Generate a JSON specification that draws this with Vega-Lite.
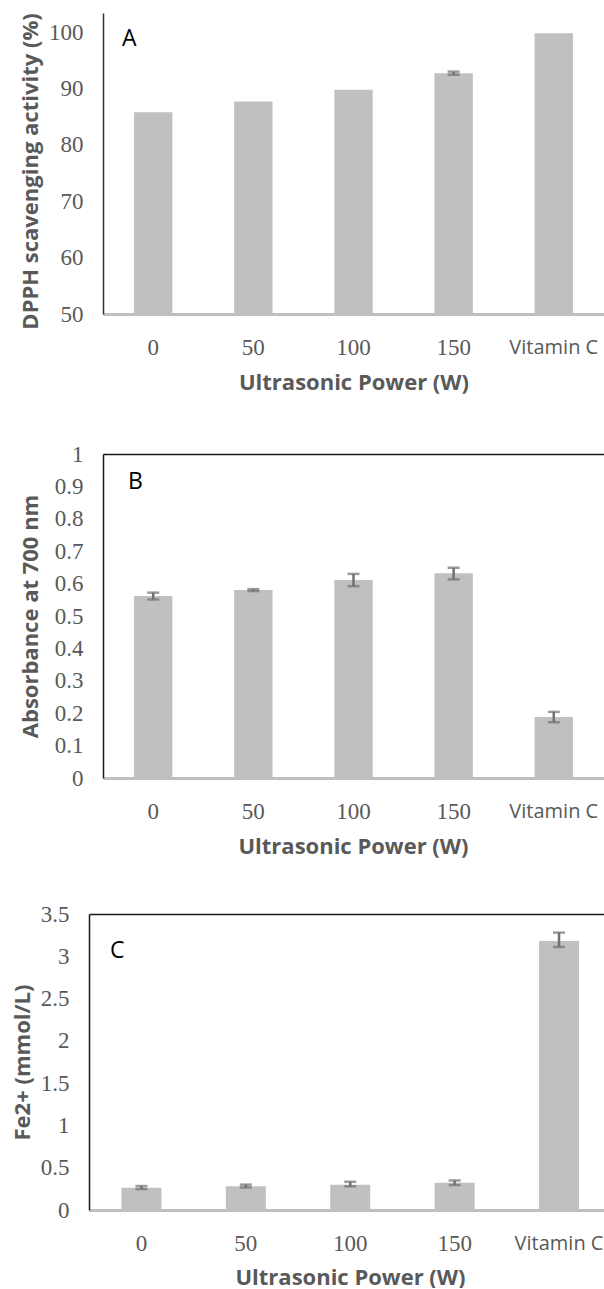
{
  "$schema": "https://vega.github.io/schema/vega-lite/v6.json",
  "background": "white",
  "padding": {"left": 11, "top": 12, "right": 0, "bottom": 0},
  "datasets": {
    "A": [
      {"power": "0", "value": 85.8},
      {"power": "50", "value": 87.7},
      {"power": "100", "value": 89.8},
      {"power": "150", "value": 92.7, "lo": 92.45, "hi": 93.0},
      {"power": "Vitamin C", "value": 99.8}
    ],
    "B": [
      {"power": "0", "value": 0.562, "lo": 0.551, "hi": 0.572},
      {"power": "50", "value": 0.580, "lo": 0.577, "hi": 0.583},
      {"power": "100", "value": 0.611, "lo": 0.592, "hi": 0.630},
      {"power": "150", "value": 0.632, "lo": 0.613, "hi": 0.649},
      {"power": "Vitamin C", "value": 0.188, "lo": 0.172, "hi": 0.204}
    ],
    "C": [
      {"power": "0", "value": 0.263, "lo": 0.248, "hi": 0.283},
      {"power": "50", "value": 0.282, "lo": 0.266, "hi": 0.300},
      {"power": "100", "value": 0.298, "lo": 0.280, "hi": 0.334},
      {"power": "150", "value": 0.322, "lo": 0.295, "hi": 0.349},
      {"power": "Vitamin C", "value": 3.18, "lo": 3.11, "hi": 3.28}
    ]
  },
  "config": {
    "view": {"stroke": null},
    "axis": {
      "grid": false,
      "ticks": false,
      "labelColor": "#595959",
      "titleColor": "#595959",
      "labelFontSize": 23,
      "labelOverlap": false,
      "labelFlush": false,
      "titleFont": "Open Sans",
      "titleFontWeight": "bold",
      "titleFontSize": 22
    },
    "axisX": {
      "labelAngle": 0,
      "domainColor": "#bfbfbf",
      "domainWidth": 3,
      "labelPadding": 33,
      "labelBaseline": "middle",
      "labelFont": {"condition": {"test": "datum.value === 'Vitamin C'", "value": "Open Sans"}, "value": "Liberation Serif"},
      "labelFontSize": {"condition": {"test": "datum.value === 'Vitamin C'", "value": 20}, "value": 23},
      "minExtent": 44,
      "maxExtent": 44,
      "titlePadding": 14
    },
    "axisY": {
      "domainColor": "#333333",
      "domainWidth": 1.5,
      "labelPadding": 20,
      "labelBaseline": "middle",
      "labelFont": "Liberation Serif"
    },
    "title": {
      "anchor": "start",
      "frame": "group",
      "orient": "top",
      "offset": 0,
      "baseline": "alphabetic",
      "font": "Open Sans",
      "fontWeight": "normal",
      "fontSize": 23,
      "color": "black"
    }
  },
  "concat": [
    {
      "width": 501,
      "height": 301,
      "title": {"text": "A", "dx": 19, "dy": 42},
      "data": {"name": "A"},
      "encoding": {
        "x": {"field": "power", "type": "nominal", "sort": null,
              "scale": {"paddingInner": 0.617, "paddingOuter": 0.31},
              "axis": {"title": "Ultrasonic Power (W)"}}
      },
      "layer": [
        {"mark": {"type": "bar", "color": "#c0c0c0"},
         "encoding": {
           "y": {"field": "value", "type": "quantitative",
                 "scale": {"domain": [50, 103.4], "zero": false, "nice": false},
                 "axis": {"title": "DPPH scavenging activity (%)", "values": [50, 60, 70, 80, 90, 100], "labelOverlap": false, "minExtent": 53, "maxExtent": 53, "titlePadding": 8, "titleY": 158}},
           "y2": {"datum": 50}
         }},
        {"mark": {"type": "rule", "color": "#707070", "strokeWidth": 2.5},
         "encoding": {"y": {"field": "lo", "type": "quantitative"}, "y2": {"field": "hi"}}},
        {"mark": {"type": "tick", "color": "#707070", "size": 12, "thickness": 2.5},
         "encoding": {"y": {"field": "lo", "type": "quantitative"}}},
        {"mark": {"type": "tick", "color": "#707070", "size": 12, "thickness": 2.5},
         "encoding": {"y": {"field": "hi", "type": "quantitative"}}}
      ]
    },
    {
      "concat": [
        {
          "width": 512,
          "height": 324,
          "title": {"text": "B", "dx": 25, "dy": 55},
          "data": {"name": "B"},
          "encoding": {
            "x": {"field": "power", "type": "nominal", "sort": null,
                  "scale": {"paddingInner": 0.617, "paddingOuter": 0.31, "range": [0, 501]},
                  "axis": {"title": "Ultrasonic Power (W)", "titleX": 250}}
          },
          "layer": [
            {"mark": {"type": "bar", "color": "#c0c0c0"},
             "encoding": {
               "y": {"field": "value", "type": "quantitative",
                     "scale": {"domain": [0, 1], "nice": false},
                     "axis": {"title": "Absorbance at 700 nm", "tickCount": 10, "format": ".1~f", "labelOverlap": false, "labelSeparation": -12, "minExtent": 53, "maxExtent": 53, "titlePadding": 8, "domainColor": "#1a1a1a",
                              "grid": true, "gridWidth": 1.5, "gridColor": "#1a1a1a",
                              "gridOpacity": {"condition": {"test": "datum.value >= 0.999", "value": 1}, "value": 0}}}
             }},
            {"mark": {"type": "rule", "color": "#707070", "strokeWidth": 2.5},
             "encoding": {"y": {"field": "lo", "type": "quantitative"}, "y2": {"field": "hi"}}},
            {"mark": {"type": "tick", "color": "#707070", "size": 12, "thickness": 2.5},
             "encoding": {"y": {"field": "lo", "type": "quantitative"}}},
            {"mark": {"type": "tick", "color": "#707070", "size": 12, "thickness": 2.5},
             "encoding": {"y": {"field": "hi", "type": "quantitative"}}}
          ]
        },
        {
          "width": 512,
          "height": 296,
          "title": {"text": "C", "dx": 7, "dy": 64},
          "data": {"name": "C"},
          "encoding": {
            "x": {"field": "power", "type": "nominal", "sort": null,
                  "scale": {"paddingInner": 0.617, "paddingOuter": 0.275, "align": 0.565, "range": [-14, 501]},
                  "axis": {"title": "Ultrasonic Power (W)", "titlePadding": 13, "titleX": 247}}
          },
          "layer": [
            {"mark": {"type": "bar", "color": "#c0c0c0"},
             "encoding": {
               "y": {"field": "value", "type": "quantitative",
                     "scale": {"domain": [0, 3.5], "nice": false},
                     "axis": {"title": "Fe2+ (mmol/L)", "values": [0, 0.5, 1, 1.5, 2, 2.5, 3, 3.5], "format": ".1~f", "labelOverlap": false, "offset": 14, "minExtent": 38, "maxExtent": 38, "titlePadding": 17, "domainColor": "#1a1a1a",
                              "grid": true, "gridWidth": 1.5, "gridColor": "#1a1a1a",
                              "gridOpacity": {"condition": {"test": "datum.value >= 3.49", "value": 1}, "value": 0}}}
             }},
            {"mark": {"type": "rule", "color": "#707070", "strokeWidth": 2.5},
             "encoding": {"y": {"field": "lo", "type": "quantitative"}, "y2": {"field": "hi"}}},
            {"mark": {"type": "tick", "color": "#707070", "size": 12, "thickness": 2.5},
             "encoding": {"y": {"field": "lo", "type": "quantitative"}}},
            {"mark": {"type": "tick", "color": "#707070", "size": 12, "thickness": 2.5},
             "encoding": {"y": {"field": "hi", "type": "quantitative"}}}
          ]
        }
      ],
      "columns": 1,
      "spacing": 46
    }
  ],
  "columns": 1,
  "spacing": 50
}
